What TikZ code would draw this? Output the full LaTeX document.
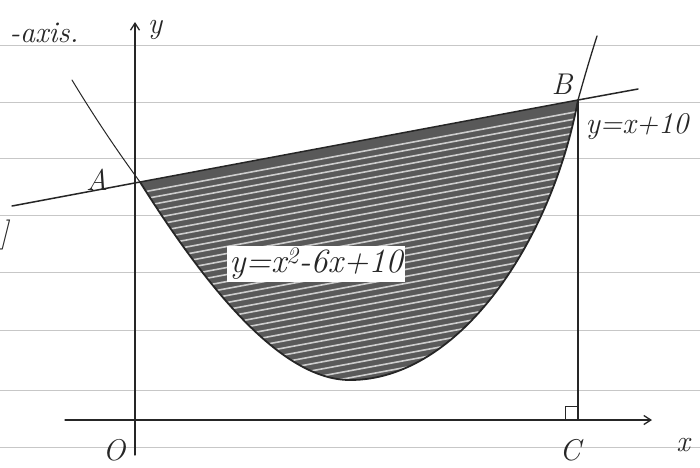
\documentclass[tikz,border=0pt]{standalone}
\usetikzlibrary{arrows.meta}
\begin{document}
\begin{tikzpicture}[x=1pt,y=-1pt,
  ink/.style={draw=black!85,line width=1.3pt,line cap=round},
  paper/.style={draw=black!22,line width=0.8pt},
  hand/.style={font=\fontsize{30}{32}\selectfont\itshape,text=black!85,inner sep=1pt},
  axis/.style={ink,-{Straight Barb[length=7pt,width=9pt]}}]
\useasboundingbox (0,0) rectangle (700,467);
\fill[white] (0,0) rectangle (700,467);
% ruled paper
\foreach \yy in {45,102,158,215,272,330,390,447}
  \draw[paper] (0,\yy) -- (700,\yy);
% key points
\coordinate (A) at (140,182);
\coordinate (B) at (578,100);
\coordinate (V) at (350,380);
\coordinate (L1) at (12,206);
\coordinate (L2) at (638,89);
\coordinate (P1) at (72,80);
\coordinate (P2) at (597,36);
\coordinate (Ybot) at (135,455);
\coordinate (Ytop) at (135,22);
\coordinate (Xl) at (65,420);
\coordinate (Xr) at (652,420);
\coordinate (C) at (578,420);
% shaded region
\begin{scope}
  \clip (A) .. controls (205,285) and (280,380) .. (V)
        .. controls (460,380) and (552,240) .. (B) -- cycle;
  \fill[black!65] (100,60) rectangle (620,400);
  \foreach \k in {0,7,...,300}
    \draw[white,opacity=0.7,line width=1.6pt] (100,{200+\k}) -- (640,{100+\k});
\end{scope}
\draw[ink,line width=1.8pt] (A) .. controls (205,285) and (280,380) .. (V)
        .. controls (460,380) and (552,240) .. (B);
% parabola ends
\draw[ink,line width=1pt] (P1) .. controls (95,118) and (118,152) .. (A);
\draw[ink] (B) .. controls (585,75) and (590,58) .. (P2);
% line y = x + 10
\draw[ink,line width=1.5pt] (L1) -- (A) -- (B) -- (L2);
% axes
\draw[axis] (Ybot) -- (Ytop);
\draw[axis] (Xl) -- (Xr);
% vertical B to C and right-angle mark
\draw[ink] (B) -- (C);
\draw[ink,line width=1pt] (565,420) -- (565,406) -- (578,406);
% labels
\node[hand] (ylab) at (155,30) {y};
\node[hand] (axistxt) at (44,33) {-axis.};
\node[hand] (brk) at (4,235) {]};
\node[hand] (Alab) at (97,180) {A};
\node[hand] (Blab) at (562,84) {B};
\node[hand] (lin) at (637,127) {y=x+10};
\node[hand,fill=white,inner sep=2pt,font=\fontsize{34}{36}\selectfont\itshape] (par) at (316,264) {y=x\textsuperscript{2}-6x+10};
\node[hand] (Olab) at (114,450) {O};
\node[hand] (Clab) at (570,450) {C};
\node[hand] (xlab) at (683,445) {x};
\end{tikzpicture}
\end{document}
